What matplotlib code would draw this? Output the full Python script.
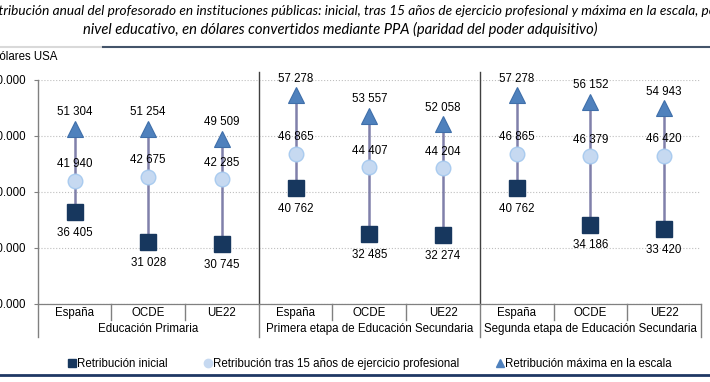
import numpy as np
import matplotlib.pyplot as plt
from matplotlib.lines import Line2D
from matplotlib.ticker import FuncFormatter

# paises y niveles educativos
paises = ["España", "OCDE", "UE22"] * 3
niveles = ["Educación Primaria", "Primera etapa de Educación Secundaria",
           "Segunda etapa de Educación Secundaria"]
# retribucion [dolares PPA]
inicial = np.array([36405, 31028, 30745, 40762, 32485, 32274, 40762, 34186, 33420])
quince  = np.array([41940, 42675, 42285, 46865, 44407, 44204, 46865, 46379, 46420])
maxima  = np.array([51304, 51254, 49509, 57278, 53557, 52058, 57278, 56152, 54943])

plt.rcParams['font.family'] = ['Liberation Sans', 'DejaVu Sans']
fs = 8.3

# colores
c_ini = '#17375E'
c_med = '#C6D9F1'
c_max = '#4F81BD'
c_lin = '#8080AA'

def miles(v, sep):
    return "{:,}".format(int(v)).replace(",", sep)

fig = plt.figure(figsize=(7.1, 3.82), dpi=100)
ax = fig.add_axes([0.0531, 0.2042, 0.9342, 0.5864])

x = np.arange(len(paises))
ax.vlines(x, inicial, maxima, color=c_lin, lw=1.8, zorder=2)
ax.plot(x, inicial, 's', ms=11.5, color=c_ini, mec=c_ini, ls='none', zorder=3)
ax.plot(x, quince, 'o', ms=10.5, color=c_med, mec='#A9CBEF', mew=1, ls='none', zorder=3)
ax.plot(x, maxima, '^', ms=11.5, color=c_max, mec='#3F6FAA', mew=0.8, ls='none', zorder=3)

for i in range(len(x)):
    ax.annotate(miles(maxima[i], " "), (x[i], maxima[i]), xytext=(0, 12),
                textcoords='offset points', ha='center', va='center',
                fontsize=fs, annotation_clip=False)
    ax.annotate(miles(quince[i], " "), (x[i], quince[i]), xytext=(0, 12),
                textcoords='offset points', ha='center', va='center',
                fontsize=fs, annotation_clip=False)
    ax.annotate(miles(inicial[i], " "), (x[i], inicial[i]), xytext=(0, -15),
                textcoords='offset points', ha='center', va='center',
                fontsize=fs, annotation_clip=False)

ax.set_xlim(-0.5, 8.5)
ax.set_ylim(20000, 60000)
ax.set_yticks([20000, 30000, 40000, 50000, 60000])
ax.yaxis.set_major_formatter(FuncFormatter(lambda v, p: miles(v, ".")))
ax.tick_params(axis='y', length=3, width=0.8, color='#808080', pad=5.5, labelsize=fs)
ax.set_xticks([])
ax.grid(axis='y', ls=':', color='#BFBFBF', lw=0.8)
ax.set_axisbelow(True)
for s in ['top', 'right', 'left']:
    ax.spines[s].set_visible(False)
ax.spines['bottom'].set_color('#808080')
ax.spines['bottom'].set_linewidth(0.9)

# lineas de separacion de la tabla de categorias
tr = ax.get_xaxis_transform()
ax.plot([-0.5, -0.5], [1.0, -0.147], transform=tr, color='#808080', lw=1, clip_on=False)
ax.plot([8.5, 8.5], [0, -0.147], transform=tr, color='#808080', lw=1, clip_on=False)
for g in [2.5, 5.5]:
    ax.plot([g, g], [0, 1.036], transform=tr, color='#404040', lw=1, clip_on=False)
    ax.plot([g, g], [0, -0.147], transform=tr, color='#808080', lw=1, clip_on=False)
for c in [0.5, 1.5, 3.5, 4.5, 6.5, 7.5]:
    ax.plot([c, c], [0, -0.071], transform=tr, color='#808080', lw=1, clip_on=False)

for i in range(len(x)):
    ax.text(x[i], -0.040, paises[i], transform=tr, ha='center', va='center', fontsize=fs)
for k in range(3):
    ax.text(3 * k + 1, -0.112, niveles[k], transform=tr, ha='center', va='center', fontsize=fs)

# titulo y etiqueta del eje
fig.text(352 / 710, 0.971, "Retribución anual del profesorado en instituciones públicas: inicial, "
         "tras 15 años de ejercicio profesional y máxima en la escala, por", ha='center',
         va='center', fontsize=9.8, style='italic', family='Lato')
fig.text(340 / 710, 0.924, "nivel educativo, en dólares convertidos mediante PPA (paridad del "
         "poder adquisitivo)", ha='center', va='center', fontsize=10.6, style='italic',
         family='Lato')
fig.text(57 / 710, 0.851, "Dólares USA", ha='right', va='center', fontsize=fs)

fig.add_artist(Line2D([0, 103 / 710], [0.877, 0.877], color='#D9D9D9', lw=1.5))
fig.add_artist(Line2D([103 / 710, 1], [0.877, 0.877], color='#44546A', lw=1.5))
fig.add_artist(Line2D([0, 1], [0.0196, 0.0196], color='#1F3864', lw=2))

# leyenda
h = [Line2D([], [], marker='s', ls='none', color=c_ini, ms=6),
     Line2D([], [], marker='o', ls='none', color=c_med, ms=6),
     Line2D([], [], marker='^', ls='none', color=c_max, ms=6)]
fig.legend(h, ["Retribución inicial",
               "Retribución tras 15 años de ejercicio profesional",
               "Retribución máxima en la escala"],
           loc='center', bbox_to_anchor=(0.521, 0.047), ncol=3, frameon=False,
           fontsize=fs, handlelength=0.6, handletextpad=0.15, columnspacing=3.2)

fig.savefig("out.png", dpi=100)
